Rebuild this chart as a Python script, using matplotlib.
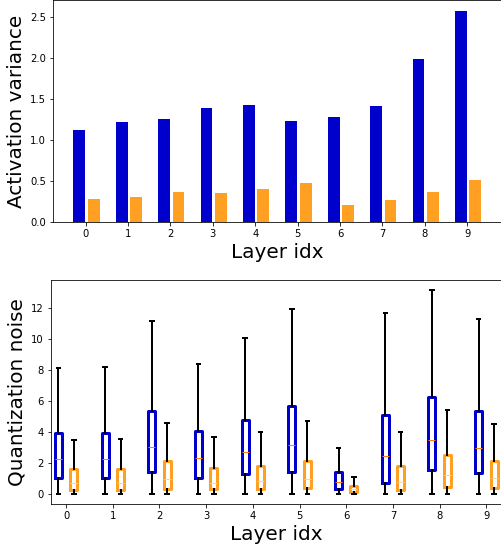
import numpy as np
import matplotlib
matplotlib.use('Agg')
import matplotlib.pyplot as plt

layers = list(range(10))

# top panel: activation variance per layer
var_blue = [1.12, 1.22, 1.26, 1.39, 1.43, 1.23, 1.28, 1.42, 1.99, 2.58]
var_orange = [0.28, 0.31, 0.37, 0.36, 0.41, 0.48, 0.21, 0.27, 0.37, 0.52]

# bottom panel: quantization noise box stats (q1, median, q3, whisker high), whisker low = 0
blue_q1 = [1.01, 1.05, 1.38, 1.03, 1.25, 1.44, 0.34, 0.69, 1.55, 1.34]
blue_med = [2.24, 2.24, 3.02, 2.30, 2.69, 3.15, 0.78, 2.46, 3.47, 2.95]
blue_q3 = [3.92, 3.92, 5.32, 4.03, 4.78, 5.69, 1.44, 5.10, 6.25, 5.37]
blue_hi = [8.10, 8.17, 11.14, 8.36, 10.04, 11.96, 2.93, 11.68, 13.19, 11.31]

orange_q1 = [0.26, 0.26, 0.34, 0.28, 0.28, 0.37, 0.09, 0.22, 0.47, 0.39]
orange_med = [0.67, 0.69, 0.93, 0.69, 0.80, 0.97, 0.30, 0.75, 1.19, 1.01]
orange_q3 = [1.60, 1.62, 2.09, 1.66, 1.81, 2.15, 0.52, 1.77, 2.48, 2.09]
orange_hi = [3.45, 3.56, 4.57, 3.64, 3.99, 4.68, 1.10, 3.99, 5.39, 4.52]

BLUE = '#0000CC'
ORANGE = '#FFA022'
W, H = 501, 548


def make_stats(q1, med, q3, hi):
    stats = []
    for a, m, b, h in zip(q1, med, q3, hi):
        stats.append({'q1': a, 'med': m, 'q3': b, 'whislo': 0.0, 'whishi': h, 'fliers': []})
    return stats


fig = plt.figure(figsize=(W / 72, H / 72), dpi=72, facecolor='white')

# top: bars (axes run a bit past the right/top edge, like the cropped original)
ax1 = fig.add_axes([53 / W, 1 - 222.3 / H, 449.5 / W, 222.8 / H])
x = np.array(layers)
ax1.bar(x - 0.15, var_blue, width=0.28, color=BLUE)
ax1.bar(x + 0.19, var_orange, width=0.28, color=ORANGE)
ax1.set_xticks(layers)
ax1.set_xlim(-0.77, 9.83)
ax1.set_ylim(0, 2.715)
ax1.set_ylabel('Activation variance', fontsize=20)
ax1.set_xlabel('Layer idx', fontsize=20)
ax1.tick_params(labelsize=10)

# bottom: boxes
ax2 = fig.add_axes([50.7 / W, 44 / H, 452 / W, 224.5 / H])
common = dict(widths=0.15, showfliers=False, manage_ticks=False,
              whiskerprops=dict(color='black', linewidth=2),
              capprops=dict(color='black', linewidth=2))
ax2.bxp(make_stats(blue_q1, blue_med, blue_q3, blue_hi), positions=x - 0.165,
        boxprops=dict(color=BLUE, linewidth=3, solid_joinstyle='round'),
        medianprops=dict(color='#ff7f0e', linewidth=1), **common)
ax2.bxp(make_stats(orange_q1, orange_med, orange_q3, orange_hi), positions=x + 0.165,
        boxprops=dict(color=ORANGE, linewidth=3, solid_joinstyle='round'),
        medianprops=dict(color='#ffd29a', linewidth=1), **common)
ax2.set_xticks(layers)
ax2.set_xticklabels([str(i) for i in layers])
ax2.set_xlim(-0.33, 9.35)
ax2.set_ylabel('Quantization noise', fontsize=20)
ax2.set_xlabel('Layer idx', fontsize=20)
ax2.tick_params(labelsize=10)

plt.savefig('out.png', dpi=72)
